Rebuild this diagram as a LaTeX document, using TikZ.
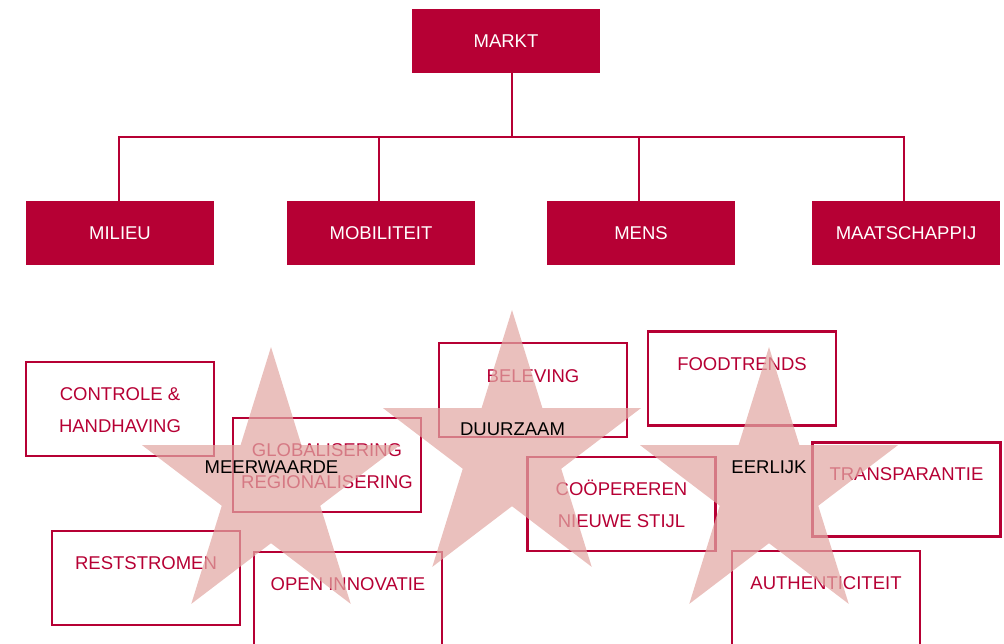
\documentclass[tikz,border=0pt]{standalone}
\usepackage{fontspec}
\setmainfont{Liberation Sans}
\usetikzlibrary{calc}
\definecolor{crim}{RGB}{182,0,52}
\definecolor{starpink}{RGB}{226,168,163}
\tikzset{
  fillbox/.style={rectangle, fill=crim, minimum width=188pt, minimum height=64pt, inner sep=0pt, text=white, font=\fontsize{18.5}{22}\selectfont},
  outbox/.style={rectangle, draw=crim, line width=2.4pt, minimum width=188pt, minimum height=94pt, inner sep=0pt},
  boxtxt/.style={text=crim, inner sep=0pt, text height=13.3pt, text depth=0pt, font=\fontsize{18.5}{22}\selectfont},
  startxt/.style={text=black, inner sep=0pt, text height=13.3pt, text depth=0pt, font=\fontsize{18.5}{22}\selectfont},
  conn/.style={draw=crim, line width=2pt},
  starfill/.style={fill=starpink, fill opacity=0.72},
}
\newcommand\drawstarat[2]{\fill[starfill] plot[samples at={0,...,9}] ({#1+0.955*(isodd(\x)?54.2:142)*cos(-90+36*\x)},{#2+(isodd(\x)?54.2:142)*sin(-90+36*\x)}) -- cycle;}
\begin{document}
\begin{tikzpicture}[x=1pt,y=-1pt]
\useasboundingbox (0,0) rectangle (1004,644);
\clip (0,0) rectangle (1004,644);
% top boxes
\node[fillbox] (markt) at (506,41) {MARKT};
\node[fillbox] (milieu) at (120,233) {MILIEU};
\node[fillbox] (mobil) at (381,233) {MOBILITEIT};
\node[fillbox] (mens) at (641,233) {MENS};
\node[fillbox] (maat) at (906,233) {MAATSCHAPPIJ};
\coordinate (bus) at (512,137);
\draw[conn] ([xshift=6pt]markt.south) -- (bus);
\draw[conn] ([xshift=-1pt]milieu.north) |- (bus);
\draw[conn] ([xshift=-2pt]mobil.north) |- (bus);
\draw[conn] ([xshift=-2pt]mens.north) |- (bus);
\draw[conn] ([xshift=-2pt]maat.north) |- (bus);
% outlined boxes
\node[outbox] (ctrl) at (120,409) {};
\node[outbox] (glob) at (327,465) {};
\node[outbox] (rest) at (146,578) {};
\node[outbox] (open) at (348,599) {};
\node[outbox] (bel) at (533,390) {};
\node[outbox] (food) at (742,378.5) {};
\node[outbox] (coop) at (621.5,504) {};
\node[outbox] (trans) at (906.5,489.5) {};
\node[outbox] (auth) at (826,598) {};
% box texts
\node[boxtxt] (ctrlA) at ([yshift=-33pt]ctrl.north) {CONTROLE \&};
\node[boxtxt] (ctrlB) at ([yshift=-65pt]ctrl.north) {HANDHAVING};
\node[boxtxt] (globA) at ([yshift=-33pt]glob.north) {GLOBALISERING};
\node[boxtxt] (globB) at ([yshift=-65pt]glob.north) {REGIONALISERING};
\node[boxtxt] (restA) at ([yshift=-33pt]rest.north) {RESTSTROMEN};
\node[boxtxt] (openA) at ([yshift=-33pt]open.north) {OPEN INNOVATIE};
\node[boxtxt] (belA) at ([yshift=-34pt]bel.north) {BELEVING};
\node[boxtxt] (foodA) at ([yshift=-34pt]food.north) {FOODTRENDS};
\node[boxtxt] (coopA) at ([yshift=-33pt]coop.north) {COÖPEREREN};
\node[boxtxt] (coopB) at ([yshift=-65pt]coop.north) {NIEUWE STIJL};
\node[boxtxt] (transA) at ([yshift=-33pt]trans.north) {TRANSPARANTIE};
\node[boxtxt] (authA) at ([yshift=-33pt]auth.north) {AUTHENTICITEIT};
% stars
\drawstarat{271}{489}
\drawstarat{512}{452}
\drawstarat{769}{489}
\node[startxt] (meer) at (271.5,467) {MEERWAARDE};
\node[startxt] (duur) at (512.5,429) {DUURZAAM};
\node[startxt] (eerl) at (769,467) {EERLIJK};
\end{tikzpicture}
\end{document}
